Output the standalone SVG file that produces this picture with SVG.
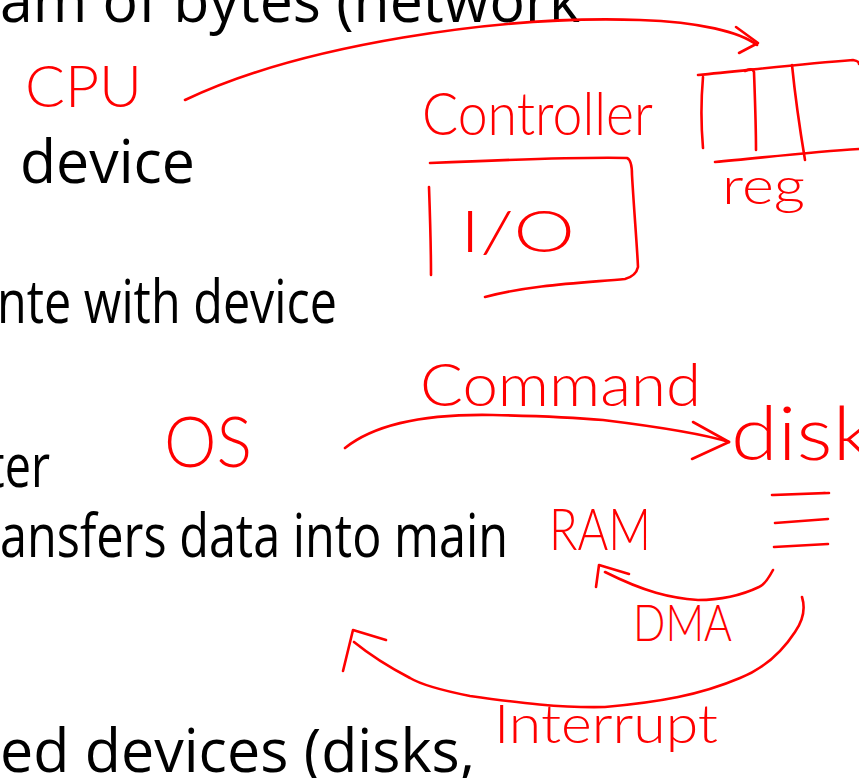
<svg xmlns="http://www.w3.org/2000/svg" width="859" height="778" viewBox="0 0 859 778">
<style>
.slide{font-family:"Open Sans","Liberation Sans",sans-serif;font-size:60px;fill:#000}
.hw{font-family:"Lato","Liberation Sans",sans-serif;font-weight:300;fill:#ff0000}
.ink{fill:none;stroke:#ff0000;stroke-width:2.6;stroke-linecap:round;stroke-linejoin:round}
</style>
<rect width="859" height="778" fill="#fff"/>
<g id="slide-text">
<text class="slide" x="0" y="22" textLength="580" lengthAdjust="spacingAndGlyphs">am of bytes (network</text>
<text class="slide" x="20" y="183" textLength="175" lengthAdjust="spacingAndGlyphs">device</text>
<text class="slide" x="-3" y="323" textLength="340" lengthAdjust="spacingAndGlyphs">nte with device</text>
<text class="slide" x="-12" y="487" textLength="62" lengthAdjust="spacingAndGlyphs">ter</text>
<text class="slide" x="0" y="557" textLength="508" lengthAdjust="spacingAndGlyphs">ansfers data into main</text>
<text class="slide" x="0" y="772" textLength="475" lengthAdjust="spacingAndGlyphs">ed devices (disks,</text>
</g>
<g id="cpu"><text class="hw" x="25" y="107" font-size="58" textLength="117" lengthAdjust="spacingAndGlyphs">CPU</text></g>
<g id="controller"><text class="hw" x="422" y="135" font-size="60" textLength="231" lengthAdjust="spacingAndGlyphs">Controller</text></g>
<g id="io">
<path class="ink" d="M430,163 C500,160 580,157 627,158 Q632,160 632,175 C634,210 637,245 638,267 Q636,276 625,279 C580,283 530,285 485,297"/>
<path class="ink" d="M429,187 C430,215 431,250 431,275"/>
<text class="hw" x="460" y="252" font-size="58" textLength="115" lengthAdjust="spacingAndGlyphs">I/O</text>
</g>
<g id="reg">
<path class="ink" d="M698,75 C750,70 800,64 853,60 Q859,61 859,64"/>
<path class="ink" d="M703,77 C701,100 701,125 703,148"/>
<path class="ink" d="M745,71 Q752,67 754,72 C755,100 756,125 756,150"/>
<path class="ink" d="M792,65 C795,95 800,130 805,160"/>
<path class="ink" d="M715,162 C760,158 810,152 859,149"/>
<text class="hw" x="722" y="204" font-size="52" textLength="83" lengthAdjust="spacingAndGlyphs">reg</text>
</g>
<g id="os"><text class="hw" x="164" y="467" font-size="70" textLength="88" lengthAdjust="spacingAndGlyphs">OS</text></g>
<g id="disk">
<text class="hw" x="731" y="460" font-size="74" textLength="142" lengthAdjust="spacingAndGlyphs">disk</text>
<path class="ink" d="M772,495 L825,493 M774,495 L829,493 M775,523 L828,519 M774,547 L828,544"/>
</g>
<g id="ram"><text class="hw" x="549" y="550" font-size="58" textLength="102" lengthAdjust="spacingAndGlyphs">RAM</text></g>
<g id="connectors">
<path class="ink" d="M185,100 C300,45 500,15 640,20 C700,22 740,32 757,45"/>
<path class="ink" d="M736,27 L758,43 L739,53"/>
<text class="hw" x="420" y="406" font-size="60" textLength="281" lengthAdjust="spacingAndGlyphs">Command</text>
<path class="ink" d="M345,448 C380,420 440,414 493,415 C540,416 580,418 603,420 C660,427 700,433 729,442"/>
<path class="ink" d="M693,422 L729,442 L692,459"/>
<path class="ink" d="M773,570 Q765,585 759,587 C740,596 720,600 698,600 C670,598 645,592 605,572"/>
<path class="ink" d="M596,587 L599,565 L629,574"/>
<text class="hw" x="633" y="641" font-size="52" textLength="99" lengthAdjust="spacingAndGlyphs">DMA</text>
<path class="ink" d="M802,597 C806,610 802,622 795,632 C780,655 760,670 740,678 C700,695 660,702 605,707 C560,708 520,703 470,696 C440,690 420,684 410,678 C385,665 370,655 354,642"/>
<path class="ink" d="M343,671 L353,630 L386,640"/>
<text class="hw" x="494" y="743" font-size="54" textLength="224" lengthAdjust="spacingAndGlyphs">Interrupt</text>
</g>
</svg>
